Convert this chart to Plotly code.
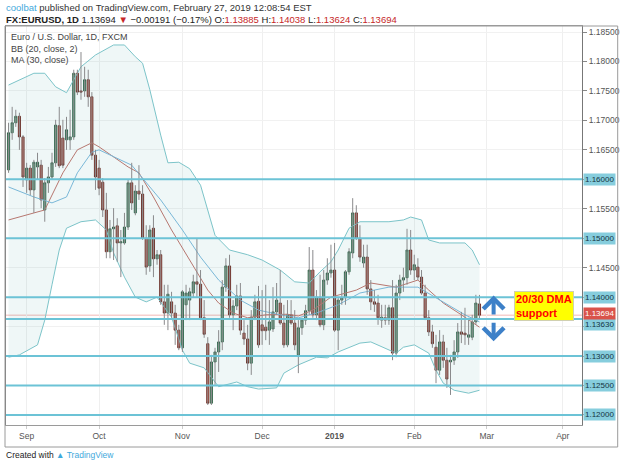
import numpy as np
import pandas as pd
import plotly.graph_objects as go

# ---------------- data ----------------
open_ = [1.1616, 1.1679, 1.1696, 1.1707, 1.1672, 1.1599, 1.1619, 1.1582, 1.1621, 1.1624,
         1.1548, 1.1594, 1.1604, 1.1628, 1.1691, 1.1670, 1.1667, 1.1667, 1.1672, 1.1780,
         1.1750, 1.1750, 1.1769, 1.1740, 1.1641, 1.1619, 1.1595, 1.1548, 1.1477, 1.1516,
         1.1521, 1.1492, 1.1492, 1.1519, 1.1594, 1.1543, 1.1580, 1.1575, 1.1500, 1.1453,
         1.1517, 1.1465, 1.1472, 1.1392, 1.1373, 1.1392, 1.1373, 1.1344, 1.1314, 1.1387,
         1.1395, 1.1407, 1.1426, 1.1422, 1.1365, 1.1321, 1.1220, 1.1290, 1.1307, 1.1324,
         1.1417, 1.1453, 1.1370, 1.1385, 1.1402, 1.1339, 1.1329, 1.1288, 1.1366, 1.1393,
         1.1353, 1.1349, 1.1344, 1.1346, 1.1375, 1.1390, 1.1356, 1.1319, 1.1370, 1.1356,
         1.1302, 1.1348, 1.1361, 1.1377, 1.1446, 1.1370, 1.1400, 1.1353, 1.1429, 1.1441,
         1.1446, 1.1344, 1.1395, 1.1399, 1.1443, 1.1475, 1.1543, 1.1500, 1.1458, 1.1468,
         1.1414, 1.1392, 1.1390, 1.1361, 1.1365, 1.1361, 1.1382, 1.1305, 1.1407, 1.1429,
         1.1433, 1.1480, 1.1446, 1.1451, 1.1434, 1.1407, 1.1365, 1.1341, 1.1315, 1.1276,
         1.1324, 1.1293, 1.1290, 1.1293, 1.1307, 1.1341, 1.1339, 1.1332, 1.1332, 1.1358,
         1.13885]
high = [1.1696, 1.1723, 1.1718, 1.1713, 1.1675, 1.1628, 1.1624, 1.1633, 1.1645, 1.1633,
        1.1602, 1.1621, 1.1645, 1.1701, 1.1723, 1.1701, 1.1706, 1.1718, 1.1786, 1.1786,
        1.1816, 1.1791, 1.1786, 1.1748, 1.1650, 1.1633, 1.1602, 1.1577, 1.1531, 1.1551,
        1.1534, 1.1514, 1.1543, 1.1599, 1.1628, 1.1590, 1.1624, 1.1590, 1.1522, 1.1522,
        1.1539, 1.1480, 1.1480, 1.1421, 1.1421, 1.1409, 1.1387, 1.1353, 1.1412, 1.1421,
        1.1416, 1.1438, 1.1500, 1.1446, 1.1395, 1.1332, 1.1302, 1.1314, 1.1344, 1.1429,
        1.1466, 1.1472, 1.1395, 1.1421, 1.1424, 1.1361, 1.1353, 1.1378, 1.1404, 1.1419,
        1.1412, 1.1421, 1.1395, 1.1417, 1.1424, 1.1446, 1.1387, 1.1395, 1.1395, 1.1378,
        1.1361, 1.1365, 1.1387, 1.1485, 1.1480, 1.1412, 1.1438, 1.1446, 1.1466, 1.1489,
        1.1492, 1.1400, 1.1421, 1.1446, 1.1483, 1.1568, 1.1556, 1.1522, 1.1489, 1.1489,
        1.1429, 1.1412, 1.1404, 1.1387, 1.1387, 1.1387, 1.1429, 1.1421, 1.1438, 1.1450,
        1.1516, 1.1514, 1.1472, 1.1466, 1.1446, 1.1421, 1.1378, 1.1353, 1.1336, 1.1344,
        1.1336, 1.1314, 1.1302, 1.1327, 1.1356, 1.1375, 1.1382, 1.1365, 1.1370, 1.1404,
        1.14038]
low = [1.1611, 1.1667, 1.1689, 1.1650, 1.1587, 1.1577, 1.1573, 1.1543, 1.1599, 1.1551,
       1.1528, 1.1577, 1.1599, 1.1621, 1.1619, 1.1619, 1.1650, 1.1650, 1.1667, 1.1743,
       1.1735, 1.1740, 1.1723, 1.1633, 1.1582, 1.1573, 1.1536, 1.1466, 1.1466, 1.1463,
       1.1460, 1.1434, 1.1489, 1.1514, 1.1548, 1.1539, 1.1565, 1.1497, 1.1438, 1.1443,
       1.1434, 1.1455, 1.1387, 1.1353, 1.1344, 1.1365, 1.1319, 1.1310, 1.1307, 1.1361,
       1.1361, 1.1399, 1.1400, 1.1361, 1.1331, 1.1217, 1.1217, 1.1251, 1.1273, 1.1310,
       1.1409, 1.1365, 1.1344, 1.1378, 1.1336, 1.1319, 1.1276, 1.1268, 1.1361, 1.1314,
       1.1319, 1.1327, 1.1319, 1.1341, 1.1370, 1.1353, 1.1314, 1.1315, 1.1353, 1.1310,
       1.1271, 1.1336, 1.1353, 1.1370, 1.1365, 1.1361, 1.1349, 1.1344, 1.1421, 1.1433,
       1.1341, 1.1310, 1.1387, 1.1387, 1.1438, 1.1466, 1.1497, 1.1460, 1.1450, 1.1404,
       1.1378, 1.1375, 1.1353, 1.1348, 1.1353, 1.1353, 1.1293, 1.1298, 1.1395, 1.1409,
       1.1421, 1.1438, 1.1429, 1.1429, 1.1404, 1.1361, 1.1334, 1.1314, 1.1254, 1.1268,
       1.1280, 1.1246, 1.1234, 1.1285, 1.1297, 1.1322, 1.1319, 1.1319, 1.1327, 1.1353,
       1.13624]
close = [1.1679, 1.1696, 1.1707, 1.1672, 1.1604, 1.1619, 1.1582, 1.1629, 1.1629, 1.1565,
         1.1594, 1.1604, 1.1628, 1.1692, 1.1623, 1.1624, 1.1684, 1.1672, 1.1780, 1.1748,
         1.1748, 1.1769, 1.1740, 1.1641, 1.1604, 1.1585, 1.1548, 1.1477, 1.1516, 1.1519,
         1.1492, 1.1494, 1.1519, 1.1594, 1.1560, 1.1580, 1.1575, 1.1500, 1.1451, 1.1514,
         1.1465, 1.1472, 1.1392, 1.1373, 1.1405, 1.1373, 1.1344, 1.1314, 1.1409, 1.1407,
         1.1409, 1.1426, 1.1422, 1.1365, 1.1337, 1.1220, 1.1290, 1.1307, 1.1324, 1.1417,
         1.1453, 1.1370, 1.1385, 1.1402, 1.1344, 1.1329, 1.1288, 1.1366, 1.1392, 1.1319,
         1.1343, 1.1343, 1.1358, 1.1375, 1.1395, 1.1356, 1.1319, 1.1370, 1.1356, 1.1319,
         1.1348, 1.1361, 1.1377, 1.1446, 1.1370, 1.1400, 1.1353, 1.1429, 1.1441, 1.1446,
         1.1344, 1.1395, 1.1399, 1.1443, 1.1477, 1.1543, 1.1500, 1.1468, 1.1468, 1.1414,
         1.1392, 1.1388, 1.1365, 1.1366, 1.1361, 1.1382, 1.1305, 1.1407, 1.1429, 1.1433,
         1.1480, 1.1446, 1.1455, 1.1434, 1.1407, 1.1365, 1.1341, 1.1321, 1.1276, 1.1324,
         1.1293, 1.1261, 1.1293, 1.1307, 1.1341, 1.1337, 1.1336, 1.1336, 1.1358, 1.1390,
         1.13694]

# Bollinger Bands (20, close, 2) and MA (30) at sample bars
bb_upper_bar = [0, 7, 10, 13, 16, 20, 24, 29, 32, 35, 37, 39, 42, 44, 47, 50, 53, 55, 57, 61,
                66, 70, 75, 79, 83, 86, 89, 91, 94, 97, 101, 105, 109, 111, 114, 116, 119,
                126, 128, 130]
bb_upper = [1.1760, 1.1780, 1.1780, 1.1757, 1.1747, 1.1791, 1.1811, 1.1828, 1.1828, 1.1808,
            1.1797, 1.1752, 1.1675, 1.1628, 1.1629, 1.1618, 1.1590, 1.1548, 1.1505, 1.1480,
            1.1472, 1.1463, 1.1446, 1.1426, 1.1424, 1.1443, 1.1460, 1.1480, 1.1517, 1.1528,
            1.1528, 1.1528, 1.1531, 1.1536, 1.1531, 1.1497, 1.1492, 1.1492, 1.1480, 1.1455]
bb_lower_bar = [0, 3, 8, 10, 12, 14, 16, 20, 24, 27, 29, 32, 35, 38, 41, 45, 48, 50, 54, 58,
                63, 66, 69, 74, 76, 80, 85, 88, 91, 97, 100, 105, 107, 109, 112, 116, 118,
                120, 123, 127, 130]
bb_lower = [1.1298, 1.1302, 1.1319, 1.1361, 1.1421, 1.1480, 1.1517, 1.1528, 1.1531, 1.1514,
            1.1475, 1.1434, 1.1400, 1.1392, 1.1400, 1.1366, 1.1310, 1.1288, 1.1280, 1.1248,
            1.1256, 1.1248, 1.1244, 1.1246, 1.1271, 1.1285, 1.1298, 1.1297, 1.1307, 1.1322,
            1.1324, 1.1310, 1.1305, 1.1315, 1.1319, 1.1305, 1.1276, 1.1254, 1.1242, 1.1237,
            1.1242]
bb_basis_bar = [0, 7, 10, 15, 19, 23, 25, 33, 36, 40, 45, 50, 55, 58, 62, 66, 71, 77, 80, 84,
                89, 96, 100, 107, 113, 116, 120, 125, 130]
bb_basis = [1.1531, 1.1543, 1.1548, 1.1611, 1.1650, 1.1662, 1.1655, 1.1621, 1.1611, 1.1570,
            1.1514, 1.1463, 1.1412, 1.1390, 1.1373, 1.1365, 1.1370, 1.1371, 1.1368, 1.1378,
            1.1400, 1.1412, 1.1424, 1.1417, 1.1429, 1.1412, 1.1390, 1.1370, 1.1349]
ma30_bar = [0, 7, 12, 16, 19, 23, 25, 34, 42, 48, 53, 58, 64, 69, 75, 80, 85, 91, 97, 105,
            113, 119, 126, 130]
ma30 = [1.1587, 1.1570, 1.1560, 1.1570, 1.1611, 1.1646, 1.1650, 1.1624, 1.1565, 1.1514,
        1.1468, 1.1429, 1.1395, 1.1378, 1.1370, 1.1365, 1.1373, 1.1387, 1.1407, 1.1417,
        1.1417, 1.1395, 1.1370, 1.1358]

levels = [1.16000, 1.15000, 1.14000, 1.13630, 1.13000, 1.12500, 1.12000]
last_price = 1.13694
price_ticks = [1.120, 1.125, 1.130, 1.135, 1.140, 1.145, 1.150, 1.155, 1.160,
               1.165, 1.170, 1.175, 1.180, 1.185]
hidden_ticks = [1.135]  # covered by the boxed price labels on the scale
month_labels = ["Sep", "Oct", "Nov", "Dec", "<b>2019</b>", "Feb", "Mar", "Apr"]
month_starts = ["2018-09", "2018-10", "2018-11", "2018-12", "2019-01", "2019-02",
                "2019-03", "2019-04"]

# ---------------- trading calendar ----------------
days = pd.bdate_range("2018-08-27", "2019-04-30")
days = days[~days.isin(pd.to_datetime(["2018-12-25", "2019-01-01"]))]
n = len(close)
bars = list(range(n))
month_idx = []
for m in month_starts:
    month_idx.append(int(np.where(days.strftime("%Y-%m") == m)[0][0]))

o = np.array(open_); c = np.array(close)
body_hi = np.maximum(o, c); body_lo = np.minimum(o, c)

# wick polyline
wx, wy = [], []
for i in bars:
    wx += [i, i, None]
    wy += [low[i], high[i], None]

fig = go.Figure()

# band fill
fig.add_trace(go.Scatter(x=bb_upper_bar + bb_lower_bar[::-1], y=bb_upper + bb_lower[::-1],
                         fill="toself", fillcolor="rgba(25,135,135,0.07)",
                         line=dict(width=0), hoverinfo="skip", showlegend=False))
fig.add_trace(go.Scatter(x=bb_upper_bar, y=bb_upper, mode="lines",
                         line=dict(color="#7cc4c9", width=1), showlegend=False))
fig.add_trace(go.Scatter(x=bb_lower_bar, y=bb_lower, mode="lines",
                         line=dict(color="#7cc4c9", width=1), showlegend=False))
fig.add_trace(go.Scatter(x=bb_basis_bar, y=bb_basis, mode="lines",
                         line=dict(color="#b77770", width=1), showlegend=False))
fig.add_trace(go.Scatter(x=ma30_bar, y=ma30, mode="lines",
                         line=dict(color="#7ab8d8", width=1), showlegend=False))

# wicks
fig.add_trace(go.Scatter(x=wx, y=wy, mode="lines", line=dict(color="#8a8a8c", width=1),
                         hoverinfo="skip", showlegend=False))
# bodies
fig.add_trace(go.Candlestick(
    x=bars, open=open_, close=close, high=body_hi, low=body_lo,
    increasing=dict(fillcolor="#6ba583", line=dict(color="#225437", width=0.8)),
    decreasing=dict(fillcolor="#d75442", line=dict(color="#5b1a13", width=0.8)),
    whiskerwidth=0, showlegend=False))

shapes = []
shapes.append(dict(type="line", xref="paper", x0=0, x1=1, yref="y", y0=last_price,
                   y1=last_price, line=dict(color="#f2b8b5", width=1), layer="below"))
for lv in levels:
    shapes.append(dict(type="line", xref="paper", x0=0, x1=1, yref="y", y0=lv, y1=lv,
                       line=dict(color="#6cc3d6", width=2), layer="above"))
# outer frame around time & price scale
W0, PW, PH = 5, 581, 399
def px(xp): return (xp - W0) / PW
def py(yp): return (425 - yp) / PH
shapes.append(dict(type="rect", xref="paper", yref="paper", x0=px(4), x1=px(622),
                   y0=py(447), y1=1, line=dict(color="#9a9a9a", width=1)))

ann = []
# price scale boxed labels (shifted like TradingView to avoid overlap)
shift = {1.13630: -6}
for lv in levels:
    ann.append(dict(xref="paper", yref="y", x=px(587), y=lv, xanchor="left",
                    yshift=shift.get(lv, 0),
                    text=f"{lv:.5f}", showarrow=False, bgcolor="#86cddd",
                    font=dict(size=8, color="#153442", family="Liberation Sans"),
                    borderpad=1))
ann.append(dict(xref="paper", yref="y", x=px(587), y=last_price, xanchor="left",
                yshift=2,
                text=f"{last_price:.5f}", showarrow=False, bgcolor="#d9534a",
                font=dict(size=8, color="#ffffff", family="Liberation Sans"),
                borderpad=1))

# header
ann.append(dict(xref="paper", yref="paper", x=px(3), y=py(8), xanchor="left",
                yanchor="middle", showarrow=False,
                text="<span style='color:#3fa9dc'>coolbat</span> published on TradingView.com, February 27, 2019 12:08:54 EST",
                font=dict(size=9.5, color="#333333", family="Liberation Sans")))
red = "#c62828"
ann.append(dict(xref="paper", yref="paper", x=px(3), y=py(19.5), xanchor="left",
                yanchor="middle", showarrow=False,
                text=("<b>FX:EURUSD, 1D</b> 1.13694 <span style='color:%s'>▼</span> −0.00191 (−0.17%%) "
                      "O:<span style='color:%s'>1.13885</span> H:<span style='color:%s'>1.14038</span> "
                      "L:<span style='color:%s'>1.13624</span> C:<span style='color:%s'>1.13694</span>")
                     % (red, red, red, red, red),
                font=dict(size=9.5, color="#222222", family="Liberation Sans")))
# legend texts
for t, yy in [("Euro / U.S. Dollar, 1D, FXCM", 37), ("BB (20, close, 2)", 49), ("MA (30, close)", 60)]:
    ann.append(dict(xref="paper", yref="paper", x=px(8), y=py(yy), xanchor="left",
                    yanchor="middle", showarrow=False, text=t,
                    font=dict(size=9, color="#444444", family="Liberation Sans")))
# footer
ann.append(dict(xref="paper", yref="paper", x=px(3), y=py(455), xanchor="left",
                yanchor="middle", showarrow=False,
                text="Created with <span style='color:#3fa9dc'>▲ TradingView</span>",
                font=dict(size=8.5, color="#222222", family="Liberation Sans")))

# arrows
arrow_bar = 133.9
ann.append(dict(x=arrow_bar, y=1.1403, ax=arrow_bar, ay=1.1368, xref="x", yref="y",
                axref="x", ayref="y", showarrow=True, arrowhead=4, arrowsize=1.0,
                arrowwidth=4, arrowcolor="#3d80c8", text=""))
ann.append(dict(x=arrow_bar, y=1.1325, ax=arrow_bar, ay=1.1359, xref="x", yref="y",
                axref="x", ayref="y", showarrow=True, arrowhead=4, arrowsize=1.0,
                arrowwidth=4, arrowcolor="#3d80c8", text=""))
# yellow note
ann.append(dict(x=147.9, y=1.13855, xref="x", yref="y", showarrow=False,
                text="<b>20/30 DMA<br>support</b>", align="left",
                bgcolor="#ffff00", bordercolor="#d0d0b0", borderwidth=1, borderpad=1,
                font=dict(size=11, color="#ff0000", family="Liberation Sans")))

fig.update_layout(
    width=625, height=465, margin=dict(l=5, r=39, t=26, b=40),
    paper_bgcolor="white", plot_bgcolor="white", boxgap=0.15,
    shapes=shapes, annotations=ann, showlegend=False,
    xaxis=dict(range=[-0.7, 158.3], tickvals=month_idx, ticktext=month_labels,
               showgrid=True, gridcolor="#efefef", zeroline=False,
               showline=True, linecolor="#9a9a9a", mirror=True,
               ticks="outside", ticklen=3, tickcolor="#cccccc",
               tickfont=dict(size=8.5, color="#555555", family="Liberation Sans"),
               rangeslider=dict(visible=False), fixedrange=True),
    yaxis=dict(range=[1.1183, 1.18602], side="right", tickvals=price_ticks,
               ticktext=["" if any(abs(p - lv) < 1e-9 for lv in levels + hidden_ticks)
                         else f"{p:.5f}" for p in price_ticks],
               showgrid=True, gridcolor="#f1f1f1", zeroline=False,
               showline=True, linecolor="#777777", mirror=True,
               ticks="outside", ticklen=4, tickcolor="#888888",
               tickfont=dict(size=8.5, color="#555555", family="Liberation Sans")),
)
fig.write_html("out.html")
